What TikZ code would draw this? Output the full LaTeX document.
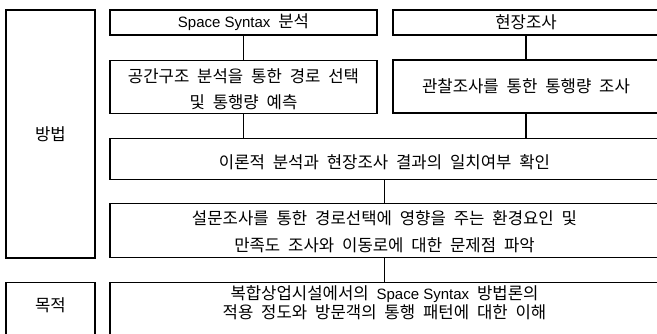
\documentclass[tikz,border=0pt]{standalone}
\usepackage{fontspec}
\setmainfont{Noto Sans CJK KR}[WordSpace=2.1]
\newfontfamily\engfont{Liberation Sans}
\newcommand\spsyn{{\engfont\fontsize{15}{19}\selectfont Space Syntax}}

\tikzset{
	box/.style={draw, line width=1.1pt, inner sep=0pt, align=center},
	kor/.style={font=\fontsize{16.7}{#1}\selectfont},
	kor/.default=25,
}

\begin{document}
\begin{tikzpicture}[x=1pt,y=-1pt,line width=1.1pt]
\useasboundingbox (0,0) rectangle (657,334);
\clip (0,0) rectangle (657,334);
% left column
\node[box,kor,minimum width=89,minimum height=248] (method) at (50.5,134) {방법};
\node[box,kor,anchor=north,minimum width=89,text height=29.2,text depth=24.8] (purpose) at (50.5,282) {목적};

% two tracks
\node[box,kor,minimum width=267,minimum height=25] (sx) at (243.5,22.5) {\spsyn{} 분석};
\node[box,kor,minimum width=266,minimum height=25] (field) at (526,22.5) {현장조사};
\node[box,kor=26,anchor=north,minimum width=267,text height=47.7,text depth=5.3] (route) at (243.5,60) {공간구조 분석을 통한 경로 선택\\및 통행량 예측};
\node[box,kor,minimum width=266,minimum height=53] (obs) at (526,86.5) {관찰조사를 통한 통행량 조사};

% merged steps
\node[box,kor,anchor=north,minimum width=549,text height=30.2,text depth=10.8] (check) at (384.5,138) {이론적 분석과 현장조사 결과의 일치여부 확인};
\node[box,kor=27,anchor=north,minimum width=549,text height=48.2,text depth=5.8] (survey) at (384.5,203) {설문조사를 통한 경로선택에 영향을 주는 환경요인 및\\만족도 조사와 이동로에 대한 문제점 파악};
\node[box,kor=19,anchor=north,minimum width=549,text height=36.2,text depth=17.8] (goal) at (384.5,282) {복합상업시설에서의 \spsyn{} 방법론의\\적용 정도와 방문객의 통행 패턴에 대한 이해};

% links
\draw (sx) -- (route);
\draw (field) -- (obs);
\draw (route.south) -- (route.south |- check.north);
\draw (obs.south) -- (obs.south |- check.north);
\draw (check) -- (survey);
\draw (survey) -- (goal);
\end{tikzpicture}
\end{document}
